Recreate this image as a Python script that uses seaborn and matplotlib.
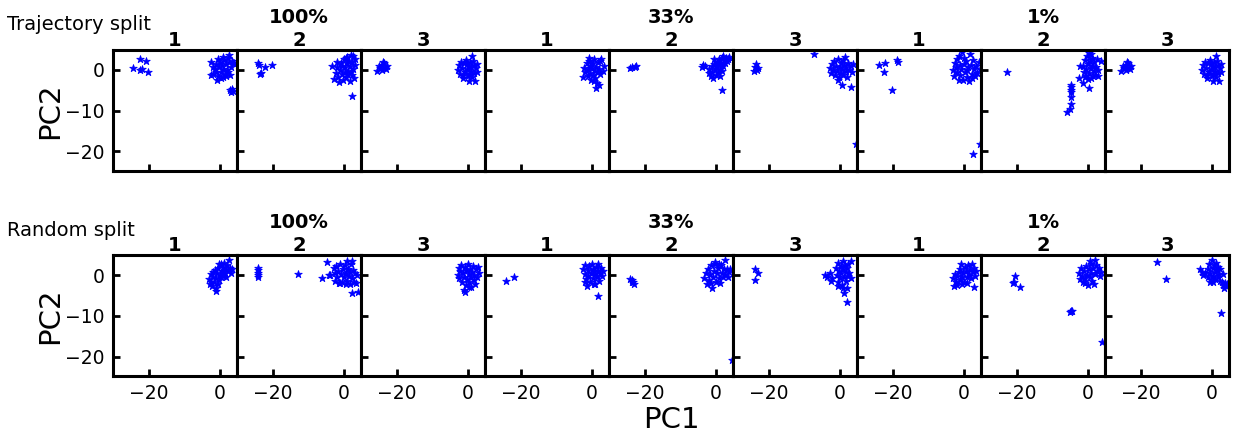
#!/usr/bin/env python3
"""
PCA scatter of three runs per data fraction, trajectory vs random split.
"""

import matplotlib

matplotlib.use("Agg")
import matplotlib.pyplot as plt
import pandas as pd
import seaborn as sns


SPLITS = ["Trajectory split", "Random split"]
FRACTIONS = ["100%", "33%", "1%"]
RUNS = ["1", "2", "3"]

X_TICKS = [-20, 0]
Y_TICKS = [0, -10, -20]

# (PC1, PC2) points, one list per panel
traj_100_1 = [
    (-22.4, 2.8), (-20.7, 2.1), (-24.4, 0.5), (-22.5, 0.1), (-21.9, 0.25), (-20.3, -0.5),
    (-2.4, 1.9), (-2.0, 0.8), (-1.8, -0.9), (-2.5, -1.2), (-1.5, 0.3), (-1.0, 1.5),
    (-0.9, -2.5), (-0.6, -1.4), (-0.3, 0.6), (0.0, 2.0), (0.2, -0.4), (0.5, 1.1),
    (0.8, -1.8), (1.0, 0.2), (1.2, 2.5), (1.4, -0.9), (1.7, 1.4), (2.0, 0.0),
    (2.2, 3.0), (2.5, 3.7), (2.6, 1.9), (2.8, -1.2), (3.0, 0.8), (3.3, 2.2),
    (3.6, 1.6), (-1.2, -0.4), (0.4, -2.0), (1.6, -1.5), (-0.4, 2.7), (0.9, 3.1),
    (3.9, 1.8), (2.3, -0.6), (2.9, -5.0), (3.4, -4.8), (3.8, -5.1), (3.1, -5.5),
]
traj_100_2 = [
    (-24.0, 1.6), (-23.8, 1.2), (-23.3, -0.7), (-23.5, -1.0), (-22.1, 0.7), (-20.1, 1.1),
    (-3.2, 1.0), (-2.9, -2.3), (-2.3, -0.8), (-2.0, 0.6), (-1.6, -1.7), (-1.3, -2.9),
    (-1.0, 0.0), (-0.8, 1.8), (-0.5, -1.0), (-0.2, -2.5), (0.0, 2.6), (0.2, 0.6),
    (0.4, -0.5), (0.6, -1.8), (0.8, 1.6), (1.0, 3.2), (1.2, -0.2), (1.4, 2.2),
    (1.6, -2.8), (1.8, 0.9), (2.0, 3.6), (2.2, -1.3), (2.4, 1.9), (2.6, 0.2),
    (2.8, -2.1), (3.0, 2.8), (3.2, 1.1), (-0.4, 0.9), (0.9, -1.0), (1.9, -0.4),
    (2.7, 3.5), (-1.8, 2.0), (0.5, 3.0), (2.2, -6.4),
]
traj_100_3 = [
    (-25.4, -0.3), (-24.6, 0.4), (-24.0, 1.2), (-23.6, 1.8), (-23.3, 0.8), (-22.7, 1.0),
    (-24.2, 0.0), (-23.0, 0.3), (-23.8, 2.0), (-24.9, 0.9),
    (-2.8, 0.0), (-2.5, 1.2), (-2.2, -1.0), (-1.9, 2.0), (-1.6, 0.5), (-1.3, -2.0),
    (-1.0, 1.6), (-0.8, -0.6), (-0.5, 2.4), (-0.3, 0.2), (0.0, -1.4), (0.2, 1.0),
    (0.4, -2.8), (0.6, 1.9), (0.8, -0.2), (1.0, 0.6), (1.2, -1.8), (1.4, 2.2),
    (1.6, -0.8), (1.8, 1.2), (2.0, -2.6), (2.2, 0.4), (2.5, -0.4), (2.6, 1.5),
    (-1.5, -1.2), (0.5, -0.9), (-0.2, 1.6), (1.1, 3.5),
]
traj_33_1 = [
    (-2.5, -1.7), (-2.2, 0.5), (-1.8, -0.5), (-1.5, 1.8), (-1.2, -1.5), (-1.0, 0.2),
    (-0.8, 2.2), (-0.6, -0.8), (-0.4, 1.0), (-0.2, -2.4), (0.0, 0.4), (0.2, -1.2),
    (0.4, 1.6), (0.6, 2.6), (0.8, -0.3), (1.0, -1.9), (1.2, 0.8), (1.4, -3.2),
    (1.6, 1.9), (1.8, -0.6), (2.0, 0.3), (2.2, 2.2), (2.4, -1.0), (2.6, 2.8),
    (3.1, -0.2), (3.4, 0.9), (1.2, -4.4), (2.0, -3.7), (0.5, -2.8), (-0.9, 3.0),
]
traj_33_2 = [
    (-24.0, 0.4), (-23.4, 0.6), (-22.8, 0.8), (-22.3, 0.9),
    (-4.0, 0.7), (-3.5, 1.1), (-3.1, 0.9),
    (-2.0, -0.8), (-1.8, 0.3), (-1.5, -1.6), (-1.2, 0.9), (-1.0, -0.4), (-0.8, -2.0),
    (-0.5, 1.4), (-0.3, 0.0), (0.0, -1.2), (0.2, 2.0), (0.4, 0.6), (0.6, -0.6),
    (0.8, 1.5), (1.0, 2.6), (1.2, 0.2), (1.4, 1.8), (1.6, -0.2), (1.8, 2.9),
    (2.0, 1.0), (2.3, 2.4), (2.6, 1.6), (2.9, 3.0), (3.2, 2.2), (3.5, 2.8),
    (3.8, 3.1), (-0.6, 2.6), (1.1, -1.4), (0.1, 1.0), (2.1, 3.3), (1.7, -5.0),
]
traj_33_3 = [
    (-24.2, -0.3), (-23.8, 0.6), (-23.4, 1.5), (-22.9, 0.5), (-23.2, -0.1),
    (-7.2, 4.0), (4.6, -18.2),
    (-2.8, 0.4), (-2.5, -0.8), (-2.2, 1.5), (-1.9, 0.0), (-1.6, 2.2), (-1.3, -1.2),
    (-1.0, 1.0), (-0.8, -0.2), (-0.5, 2.8), (-0.3, -1.8), (0.0, 0.6), (0.2, 1.8),
    (0.4, -0.7), (0.6, 0.2), (0.8, 2.4), (1.0, -1.3), (1.2, 1.2), (1.4, 3.1),
    (1.6, -0.2), (1.8, 0.8), (2.0, -1.7), (2.3, 1.6), (2.6, 0.1), (3.0, 1.0),
    (3.4, -0.5), (3.7, 1.4), (-0.4, -2.5), (0.6, -3.7), (3.2, -4.2),
]
traj_1_1 = [
    (-23.8, 1.2), (-22.1, 1.7), (-22.5, -0.5), (-18.7, 2.5), (-18.4, 2.0), (-20.1, -5.0),
    (2.5, -20.6), (4.4, -18.1),
    (-3.0, 0.0), (-2.8, -1.5), (-2.6, 1.8), (-2.3, 0.8), (-2.0, -0.6), (-1.8, 2.6),
    (-1.5, -2.5), (-1.2, 1.2), (-1.0, -1.2), (-0.8, 0.2), (-0.5, 4.5), (-0.3, -2.4),
    (0.0, 1.5), (0.3, -0.5), (0.6, 2.2), (0.9, -1.8), (1.2, 0.6), (1.5, -2.6),
    (1.8, 3.8), (2.0, 1.3), (2.3, -0.9), (2.6, 2.5), (2.9, 0.2), (3.2, -1.6),
    (3.5, 1.0), (3.8, -0.8), (4.2, 2.0), (4.4, 0.3), (0.1, 3.0), (-1.4, 3.4),
    (1.0, -0.1), (2.4, -2.0),
]
traj_1_2 = [
    (-22.6, -0.5),
    (-4.6, -3.7), (-4.8, -4.2), (-4.8, -4.9), (-4.8, -5.5), (-4.8, -6.7), (-4.8, -8.3),
    (-5.1, -9.5), (-5.8, -10.4),
    (-2.5, -1.9), (-1.3, -3.3), (0.3, -4.4), (-2.3, 1.0), (2.9, -1.5), (3.7, 2.2),
    (-1.3, 1.0), (-1.0, -0.5), (-0.8, 2.5), (-0.6, 0.2), (-0.4, -1.5), (-0.2, 3.4),
    (0.0, 1.4), (0.2, -0.8), (0.4, 4.2), (0.6, 2.2), (0.8, 0.4), (1.0, -1.9),
    (1.2, 3.0), (1.4, 1.0), (1.6, -0.2), (1.8, 2.0), (2.0, -1.2), (2.2, 0.8),
    (2.5, 2.7), (2.8, 0.0), (0.1, -2.2), (0.9, 3.8), (-0.9, -1.8), (1.5, -1.5),
]
traj_1_3 = list(traj_100_3)

rand_100_1 = [
    (-3.0, -1.0), (-2.8, -2.2), (-2.6, 0.2), (-2.4, -1.6), (-2.2, -2.8), (-2.0, 0.8),
    (-1.8, -0.4), (-1.6, -1.8), (-1.4, 1.2), (-1.2, -3.3), (-1.0, -0.8), (-0.8, 0.4),
    (-0.6, -2.2), (-0.4, 1.8), (-0.2, -1.2), (0.0, 0.0), (0.2, 2.6), (0.4, -0.6),
    (0.6, 1.0), (0.8, 2.0), (1.0, -0.2), (1.2, 3.0), (1.4, 0.6), (1.6, 1.6),
    (1.8, -0.5), (2.0, 2.4), (2.3, 1.0), (2.5, 3.7), (2.8, 1.8), (3.1, 0.6),
    (3.4, 1.4), (-1.1, -4.0), (0.9, 0.8), (-0.3, 2.8),
]
rand_100_2 = [
    (-24.0, 1.8), (-24.0, 1.2), (-24.1, 0.6), (-24.0, 0.0), (-24.2, -0.6),
    (-13.0, 0.25), (-6.2, -0.7), (-4.6, 3.2), (-4.2, -0.1), (-4.0, 0.1),
    (-2.9, 1.8), (-2.6, 0.4), (-2.4, -1.4), (-2.2, 2.2), (-1.9, -0.6), (-1.6, 1.0),
    (-1.4, -2.0), (-1.1, 2.6), (-0.8, 0.2), (-0.6, -1.6), (-0.3, 1.4), (0.0, -0.6),
    (0.2, 2.4), (0.5, 0.6), (0.8, -1.4), (1.0, 3.5), (1.2, 1.6), (1.4, -0.2),
    (1.6, -2.2), (1.8, 0.8), (2.0, 2.6), (2.2, -0.8), (2.4, 3.5), (2.6, 1.2),
    (2.9, -1.6), (3.2, 0.4), (3.4, -1.9), (3.7, 0.0), (2.3, -4.5), (3.9, -4.2),
    (-1.0, -2.0), (0.6, -2.2),
]
rand_100_3 = [
    (-2.8, 0.0), (-2.6, 1.8), (-2.4, -0.8), (-2.1, 1.0), (-1.8, 2.4), (-1.6, -1.6),
    (-1.3, 0.4), (-1.0, -0.4), (-0.8, 2.0), (-0.6, -2.4), (-0.4, 1.2), (-0.2, -1.0),
    (0.0, 2.8), (0.2, 0.2), (0.4, -1.8), (0.6, 1.6), (0.8, -0.6), (1.0, -3.0),
    (1.2, 0.8), (1.4, 2.2), (1.6, -1.2), (1.8, 0.0), (2.0, -2.2), (2.2, 1.4),
    (2.5, -0.4), (2.8, 2.0), (3.1, 0.6), (-1.0, -3.6), (-0.8, -4.1), (0.3, -2.9),
]
rand_33_1 = [
    (-24.1, -1.5), (-21.8, -0.5),
    (-2.5, 1.6), (-2.0, 0.2), (-1.8, 2.4), (-1.6, -1.0), (-1.4, -2.7), (-1.2, 1.2),
    (-1.0, -0.2), (-0.7, 2.2), (-0.5, -1.6), (-0.3, 0.6), (0.0, 2.6), (0.2, -0.8),
    (0.4, 1.4), (0.6, -2.2), (0.8, 0.2), (1.0, -2.3), (1.2, 2.0), (1.4, -0.6),
    (1.6, 1.0), (1.8, 2.6), (2.0, -1.4), (2.3, 0.4), (2.6, 1.8), (2.9, -0.2),
    (3.1, 1.0), (-1.8, -1.8), (0.5, 0.9), (1.7, -5.2),
]
rand_33_2 = [
    (-24.0, -0.9), (-23.6, -1.2), (-23.3, -1.6), (-23.1, -2.1), (-23.5, -1.8),
    (4.6, -20.9),
    (-3.2, -0.7), (-2.8, 0.6), (-2.5, -2.3), (-2.2, 1.6), (-2.0, -1.2), (-1.7, 0.2),
    (-1.4, 2.4), (-1.1, -3.1), (-0.9, -0.6), (-0.6, 1.0), (-0.3, 2.8), (0.0, -1.6),
    (0.3, 0.4), (0.6, 1.8), (0.9, -0.8), (1.2, -1.9), (1.4, 2.4), (1.6, 0.6),
    (1.9, -0.4), (2.2, 1.4), (2.5, 3.7), (2.7, 0.2), (3.0, 1.6), (3.3, -0.6),
    (3.6, 0.8), (4.0, 1.4), (-0.2, 3.2), (0.8, 2.6), (-1.5, -2.0),
]
rand_33_3 = [
    (-23.7, 1.6), (-23.0, 0.4), (-23.7, -1.2),
    (-4.3, 0.0), (-3.6, -0.4), (-2.9, 0.4), (-2.5, -1.5), (-2.2, -0.8), (-1.0, 1.8),
    (-0.8, 0.0), (-0.6, -1.6), (-0.4, 3.0), (-0.2, 1.0), (0.0, -0.8), (0.2, 2.2),
    (0.4, 0.4), (0.6, -2.4), (0.8, 1.4), (1.0, 3.4), (1.2, -0.4), (1.4, 2.4),
    (1.6, 0.8), (1.8, -1.4), (2.0, 1.8), (2.2, -0.2), (2.4, 2.8), (2.7, 0.6),
    (3.0, -0.8), (3.2, 3.5), (1.0, -3.2), (1.3, -4.5), (2.0, -3.3), (2.0, -6.7),
    (-0.5, -2.6),
]
rand_1_1 = [
    (-3.0, -0.8), (-2.8, -2.7), (-2.6, 0.2), (-2.3, -1.6), (-2.0, -0.2), (-1.8, -2.4),
    (-1.5, 0.8), (-1.2, -1.2), (-1.0, 1.6), (-0.7, 2.8), (-0.5, -0.4), (-0.2, 0.6),
    (0.0, -1.8), (0.3, 2.0), (0.6, 1.0), (0.9, -0.6), (1.2, 2.4), (1.4, 0.2),
    (1.7, 1.4), (2.0, -0.8), (2.2, 2.6), (2.5, 0.8), (2.8, 1.8), (3.0, -0.2),
    (3.3, 1.0), (2.8, -3.0), (-0.4, -2.2), (0.8, -2.0),
]
rand_1_2 = [
    (-20.4, -0.25), (-21.1, -1.9), (-20.6, -1.6), (-19.0, -3.0),
    (-4.6, -8.8), (-4.9, -9.0), (-4.4, -8.7), (3.9, -16.4),
    (-2.5, 0.4), (-2.2, -1.0), (-2.0, 1.8), (-1.7, -0.2), (-1.4, -1.8), (-1.2, 1.0),
    (-0.9, -0.8), (-0.6, 2.2), (-0.3, 0.0), (0.0, -2.4), (0.2, 1.4), (0.5, -0.6),
    (0.8, 2.8), (1.0, 0.6), (1.3, -1.4), (1.5, 1.8), (1.7, -2.1), (1.9, 3.7),
    (2.1, 0.2), (2.4, 2.4), (2.7, 1.0), (3.1, 1.8), (3.4, -0.2), (3.8, 0.8),
    (-0.8, -2.0), (0.6, 3.4),
]
rand_1_3 = [
    (-15.4, 3.2), (-12.8, -0.9), (2.5, -9.3),
    (-3.3, 1.6), (-2.9, 0.8), (-2.4, 0.0), (-1.9, 0.4), (-1.2, 1.4), (-1.0, -0.4),
    (-0.8, 2.8), (-0.5, 0.6), (-0.3, -1.2), (0.0, 3.6), (0.2, 1.8), (0.4, -0.2),
    (0.6, 2.4), (0.8, 0.8), (1.0, -1.0), (1.2, 3.0), (1.4, 1.2), (1.6, -0.6),
    (1.8, 2.0), (2.0, 0.2), (2.2, -1.4), (2.4, 1.4), (3.2, 0.2), (2.8, -1.8),
    (3.2, -2.4), (3.6, -2.0), (3.9, -2.8), (4.2, -2.2), (3.4, -3.1), (-0.6, -1.8),
    (0.4, -1.6),
]

PANELS = {
    "Trajectory split": [traj_100_1, traj_100_2, traj_100_3,
                         traj_33_1, traj_33_2, traj_33_3,
                         traj_1_1, traj_1_2, traj_1_3],
    "Random split": [rand_100_1, rand_100_2, rand_100_3,
                     rand_33_1, rand_33_2, rand_33_3,
                     rand_1_1, rand_1_2, rand_1_3],
}


def build_frame() -> pd.DataFrame:
    rows = []
    for split in SPLITS:
        for i, pts in enumerate(PANELS[split]):
            for x, y in pts:
                rows.append({"split": split, "panel": i, "PC1": x, "PC2": y})
    return pd.DataFrame(rows)


def main() -> None:
    sns.set_theme(style="ticks")
    plt.rcParams["font.family"] = ["DejaVu Sans"]
    plt.rcParams.update({
        "text.color": "black",
        "axes.labelcolor": "black",
        "axes.edgecolor": "black",
        "xtick.color": "black",
        "ytick.color": "black",
        "axes.linewidth": 2.2,
    })

    df = build_frame()

    fig, axes = plt.subplots(2, 9, figsize=(12.36, 4.42), dpi=100, sharex=True, sharey=True)
    fig.subplots_adjust(left=0.0914, right=0.9943, top=0.887, bottom=0.149,
                        wspace=0.0, hspace=0.694)

    for r, split in enumerate(SPLITS):
        for c in range(9):
            ax = axes[r, c]
            sub = df[(df["split"] == split) & (df["panel"] == c)]
            sns.scatterplot(data=sub, x="PC1", y="PC2", marker="*", s=32,
                            color="blue", edgecolor="blue", linewidth=0.6, ax=ax)
            ax.set_xlim(-30, 4.8)
            ax.set_ylim(-24.8, 4.9)
            ax.set_xticks(X_TICKS)
            ax.set_yticks(Y_TICKS)
            ax.tick_params(direction="in", length=5, width=2, labelsize=13.5,
                           top=False, right=False, pad=6, colors="black")
            for spine in ax.spines.values():
                spine.set_visible(True)
                spine.set_linewidth(2.2)
                spine.set_color("black")
            ax.set_xlabel("")
            ax.set_ylabel("")
            run = RUNS[c % 3]
            if c % 3 == 1:
                title = f"{FRACTIONS[c // 3]}\n{run}"
            else:
                title = run
            ax.set_title(title, fontsize=14, fontweight="bold", pad=3,
                         linespacing=1.25, color="black")
        axes[r, 0].set_ylabel("PC2", fontsize=21, labelpad=1, color="black")

    axes[1, 4].set_xlabel("PC1", fontsize=21, labelpad=2, color="black")

    fig.text(0.006, 1 - 24 / 442, "Trajectory split", fontsize=14, va="center",
             ha="left", color="black")
    fig.text(0.006, 1 - 230 / 442, "Random split", fontsize=14, va="center",
             ha="left", color="black")

    fig.savefig("out.png", dpi=100)
    plt.close(fig)


if __name__ == "__main__":
    main()
